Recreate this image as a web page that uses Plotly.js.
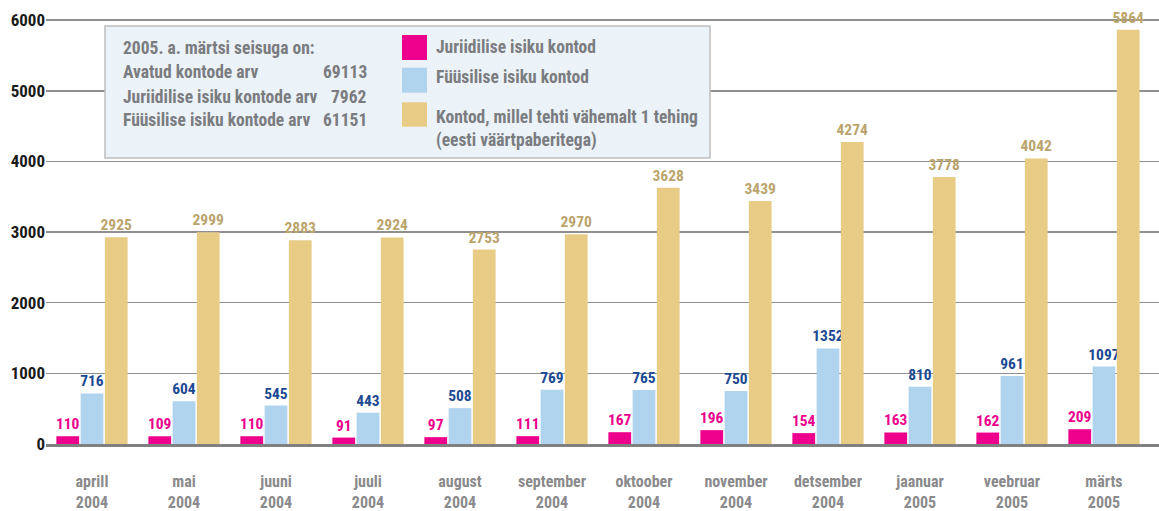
<!DOCTYPE html>
<html>
<head>
<meta charset="utf-8">
<script src="https://cdn.plot.ly/plotly-3.0.1.min.js"></script>
<style>
html,body{margin:0;padding:0;background:#fff;}
#chart{width:1159px;height:511px;}
</style>
</head>
<body>
<div id="chart"></div>
<script>
// ---- data ----
var months = ['aprill','mai','juuni','juuli','august','september','oktoober','november','detsember','jaanuar','veebruar','märts'];
var years  = ['2004','2004','2004','2004','2004','2004','2004','2004','2004','2005','2005','2005'];
var juriidiline = [110,109,110,91,97,111,167,196,154,163,162,209];
var fyysiline   = [716,604,545,443,508,769,765,750,1352,810,961,1097];
var tehinguga   = [2925,2999,2883,2924,2753,2970,3628,3439,4274,3778,4042,5864];
var seriesNames = ['Juriidilise isiku kontod','Füüsilise isiku kontod','Kontod, millel tehti vähemalt 1 tehing<br>(eesti väärtpaberitega)'];
var summaryTitle = '2005. a. märtsi seisuga on:';
var summaryLabels = ['Avatud kontode arv','Juriidilise isiku kontode arv','Füüsilise isiku kontode arv'];
var summaryValues = ['69113','7962','61151'];
var yTicks = [0,1000,2000,3000,4000,5000,6000];

// ---- styling ----
var FONT = '"Roboto Condensed","Open Sans Condensed","DejaVu Sans Condensed",sans-serif';
var barColors = ['#EC008C','#B0D3EE','#E8CC86'];
var labelColors = ['#EC008C','#1C4A92','#BBA46C'];
var GREY = '#7A7C80';

var cats = months.map(function(m,i){return m+'<br>'+years[i];});
var seriesVals = [juriidiline, fyysiline, tehinguga];

var W=1159,H=511, ML=46, MR=0, MT=6, MB=67;
var PW=W-ML-MR, PH=H-MT-MB;
function px(x){return (x-ML)/PW;}
function py(y){return (H-MB-y)/PH;}

var traces = seriesVals.map(function(v,i){
  return {
    type:'bar', x:cats, y:v, name:seriesNames[i],
    marker:{color:barColors[i], line:{width:0}},
    text:v.map(String), textposition:'outside', cliponaxis:false,
    constraintext:'none',
    textfont:{family:FONT, size:15.5, color:labelColors[i], weight:700},
    hoverinfo:'skip'
  };
});

var shapes = [
  {type:'rect', xref:'paper', yref:'paper', x0:px(105), x1:px(710), y0:py(158), y1:py(26),
   fillcolor:'#EBF2F8', line:{color:'#BEBEBE', width:1.5}, layer:'above'}
];
var annotations = [];
var txtFont = {family:FONT, size:17.5, color:GREY, weight:700};
annotations.push({xref:'paper',yref:'paper',x:px(121),y:py(48),text:summaryTitle,showarrow:false,xanchor:'left',yanchor:'middle',font:txtFont});
var rowY=[72.5,96.7,120.5];
summaryLabels.forEach(function(l,i){
  annotations.push({xref:'paper',yref:'paper',x:px(121),y:py(rowY[i]),text:l,showarrow:false,xanchor:'left',yanchor:'middle',font:txtFont});
  annotations.push({xref:'paper',yref:'paper',x:px(369),y:py(rowY[i]),text:summaryValues[i],showarrow:false,xanchor:'right',yanchor:'middle',font:txtFont});
});
var swY=[[35,60],[67.7,92.7],[102.3,126.7]];
var legTextY=[46.5,77.5,128.5];
seriesNames.forEach(function(n,i){
  shapes.push({type:'rect',xref:'paper',yref:'paper',x0:px(402),x1:px(427),y0:py(swY[i][1]),y1:py(swY[i][0]),
    fillcolor:barColors[i],line:{width:0},layer:'above'});
  annotations.push({xref:'paper',yref:'paper',x:px(434),y:py(legTextY[i]),text:n,showarrow:false,xanchor:'left',yanchor:'middle',align:'left',font:txtFont});
});

var layout = {
  width:W, height:H,
  margin:{l:ML,r:MR,t:MT,b:MB,pad:0},
  paper_bgcolor:'#fff', plot_bgcolor:'#fff',
  showlegend:false,
  barmode:'group', bargap:0.21, bargroupgap:0.06,
  font:{family:FONT},
  xaxis:{type:'category', range:[-0.5,11.598], showgrid:false, zeroline:false,
    showline:true, linecolor:'#808080', linewidth:3, ticks:'',
    ticklabelstandoff:21,
    tickfont:{family:FONT, size:16, color:'#8A8A8C', weight:700}},
  yaxis:{range:[0,6200], tickvals:yTicks, ticktext:yTicks.map(String),
    showgrid:true, gridcolor:'#8F8F8F', gridwidth:1.5, zeroline:false, showline:false,
    ticks:'', tickfont:{family:FONT, size:17, color:'#1A1A1A', weight:700}},
  shapes:shapes, annotations:annotations
};

Plotly.newPlot('chart', traces, layout, {staticPlot:true, displayModeBar:false});
</script>
</body>
</html>
